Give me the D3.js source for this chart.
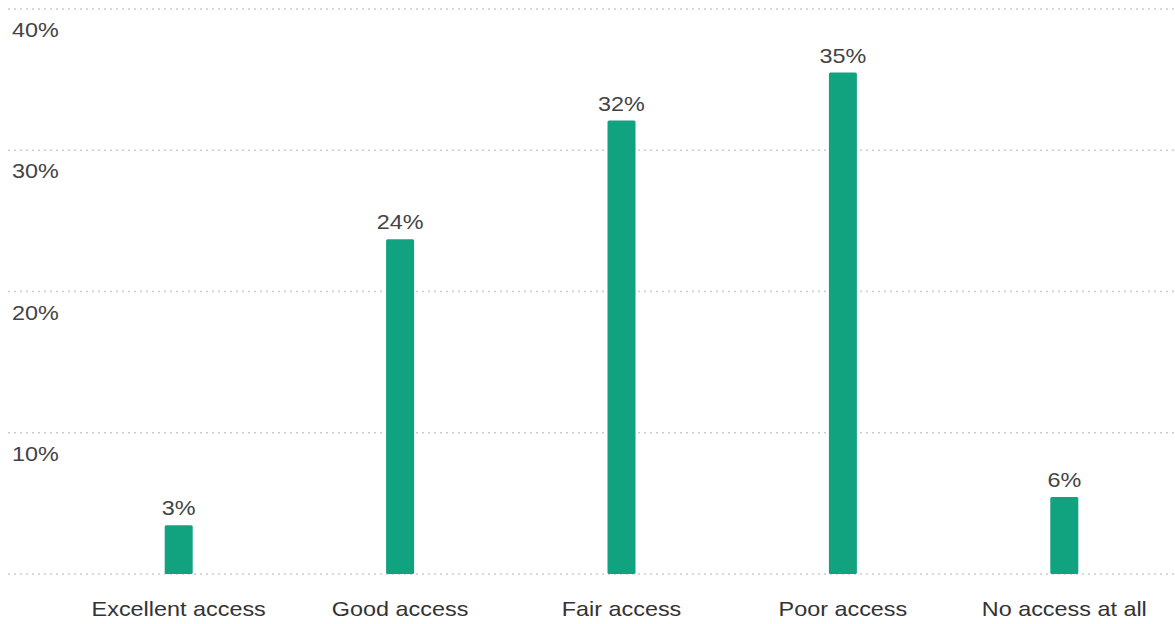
<!DOCTYPE html>
<html>
<head>
<meta charset="utf-8">
<script src="https://cdn.jsdelivr.net/npm/d3@7"></script>
<style>
  html, body { margin: 0; padding: 0; background: #fff; }
  svg { display: block; font-family: "Liberation Sans", Arial, sans-serif; }
</style>
</head>
<body>
<svg id="chart" width="1175" height="624"></svg>
<script>
const categories = ["Excellent access", "Good access", "Fair access", "Poor access", "No access at all"];
const values = [3.45, 23.7, 32.1, 35.5, 5.45];
const valueLabels = ["3%", "24%", "32%", "35%", "6%"];
const yTicks = [0, 10, 20, 30, 40];
const yTickLabels = ["", "10%", "20%", "30%", "40%"];

const svg = d3.select("#chart");
const W = 1175, H = 624;
const plot = { left: 68, right: 1175, top: 9, bottom: 574 };
const FS = 20, SX = 1.17;

const x = d3.scaleBand().domain(categories).range([plot.left, plot.right]).paddingInner(0).paddingOuter(0);
const y = d3.scaleLinear().domain([0, 40]).range([plot.bottom, plot.top]);

// gridlines
svg.append("g").selectAll("line").data(yTicks).join("line")
  .attr("x1", 8).attr("x2", W)
  .attr("y1", d => y(d)).attr("y2", d => y(d))
  .attr("stroke", "#cccccc").attr("stroke-width", 1.5)
  .attr("stroke-dasharray", "2,4");

// y tick labels (below gridline)
svg.append("g").selectAll("text").data(yTicks).join("text")
  .attr("transform", d => `translate(12,${y(d) + 28}) scale(${SX},1)`)
  .attr("font-size", FS).attr("fill", "#444")
  .text((d, i) => yTickLabels[i]);

// bars
const bw = 28;
svg.append("g").selectAll("rect").data(values).join("rect")
  .attr("x", (d, i) => x(categories[i]) + x.bandwidth() / 2 - bw / 2)
  .attr("y", d => y(d))
  .attr("width", bw)
  .attr("height", d => y(0) - y(d))
  .attr("rx", 1.5)
  .attr("fill", "#11a27f");

// value labels
svg.append("g").selectAll("text").data(values).join("text")
  .attr("transform", (d, i) => `translate(${x(categories[i]) + x.bandwidth() / 2},${y(d) - 10}) scale(${SX},1)`)
  .attr("text-anchor", "middle")
  .attr("font-size", FS).attr("fill", "#444")
  .text((d, i) => valueLabels[i]);

// category labels
const xAxis = d3.axisBottom(x).tickSize(0).tickPadding(0);
const gx = svg.append("g").attr("transform", `translate(0,${plot.bottom})`).call(xAxis);
gx.select(".domain").remove();
gx.selectAll("text")
  .attr("y", 0).attr("dy", 0)
  .attr("transform", `translate(0,42) scale(${SX},1)`)
  .attr("x", function() { return 0; })
  .attr("font-size", FS).attr("fill", "#333")
  .attr("font-family", "Liberation Sans, Arial, sans-serif");
</script>
</body>
</html>
